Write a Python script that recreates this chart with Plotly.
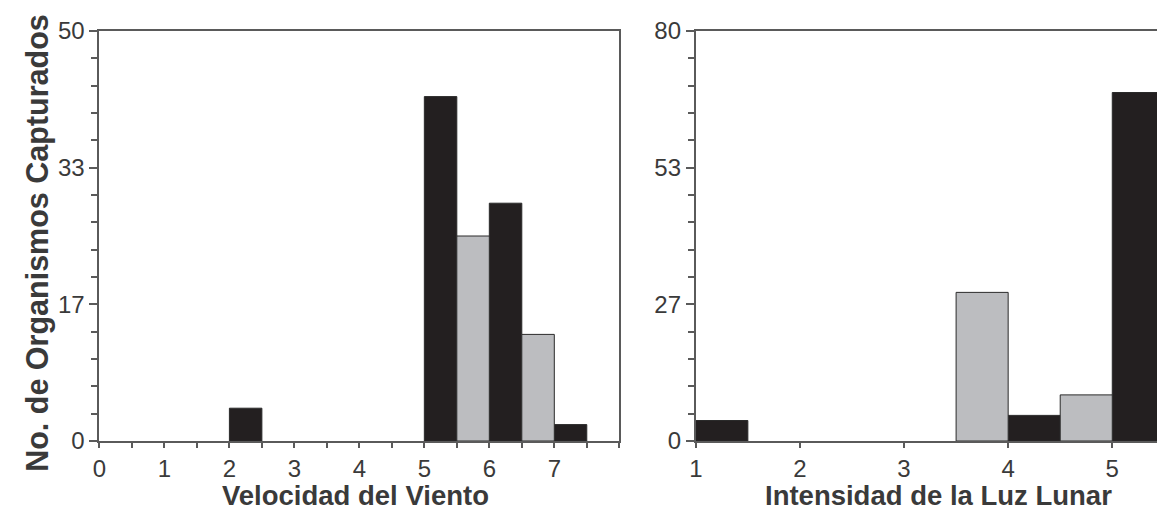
import plotly.graph_objects as go

# Panel 1: Velocidad del Viento (bins of width 0.5, left edges)
wind_black_x = [2, 5, 6, 7]
wind_black_y = [4, 42, 29, 2]
wind_gray_x = [5.5, 6.5]
wind_gray_y = [25, 13]
wind_tickvals = [0, 1, 2, 3, 4, 5, 6, 7]
wind_ytickvals = [0, 50 / 3, 100 / 3, 50]
wind_yticktext = ["0", "17", "33", "50"]

# Panel 2: Intensidad de la Luz Lunar
moon_black_x = [1, 4, 5]
moon_black_y = [4, 5, 68]
moon_gray_x = [3.5, 4.5]
moon_gray_y = [29, 9]
moon_tickvals = [1, 2, 3, 4, 5]
moon_ytickvals = [0, 80 / 3, 160 / 3, 80]
moon_yticktext = ["0", "27", "53", "80"]

BLACK = "#231f20"
GRAY = "#bcbdc0"
AX = "#5a5a5a"
TXT = "#3a3a3a"
FONT = "Liberation Sans, Arial, sans-serif"

W, H = 1157, 511
fig = go.Figure()

def bars(x, y, color, xa, ya):
    fig.add_trace(go.Bar(
        x=x, y=y, width=0.5, offset=0,
        marker=dict(color=color, line=dict(color="#2a2a2a", width=1)),
        xaxis=xa, yaxis=ya, showlegend=False,
    ))

bars(wind_black_x, wind_black_y, BLACK, "x", "y")
bars(wind_gray_x, wind_gray_y, GRAY, "x", "y")
bars(moon_black_x, moon_black_y, BLACK, "x2", "y2")
bars(moon_gray_x, moon_gray_y, GRAY, "x2", "y2")

common_ax = dict(
    showline=True, linecolor=AX, linewidth=2,
    showgrid=False, zeroline=False,
    ticks="outside", tickcolor=AX, tickwidth=2,
    tickfont=dict(family=FONT, size=24, color=TXT),
)

x1_dom = [93 / W, 616 / W]
x2_dom = [693 / W, 1.0]

fig.update_layout(
    width=W, height=H,
    margin=dict(l=0, r=0, t=31, b=70),
    paper_bgcolor="white", plot_bgcolor="white",
    barmode="overlay",
    xaxis=dict(common_ax, domain=x1_dom, range=[0, 8], anchor="y",
               tickvals=wind_tickvals, ticklen=5, mirror=True,
               minor=dict(dtick=0.5, ticklen=5, tickcolor=AX, tickwidth=2, ticks="outside")),
    yaxis=dict(common_ax, domain=[0, 1], range=[0, 50], anchor="x",
               tickvals=wind_ytickvals, ticktext=wind_yticktext, ticklen=8, mirror=True,
               minor=dict(dtick=50 / 15, tick0=0, ticklen=6, tickcolor=AX, tickwidth=2, ticks="outside")),
    xaxis2=dict(common_ax, domain=x2_dom, range=[1, 1 + (W - 693) / 104.75], anchor="y2",
                tickvals=moon_tickvals, ticklen=5, mirror=True),
    yaxis2=dict(common_ax, domain=[0, 1], range=[0, 80], anchor="x2",
                tickvals=moon_ytickvals, ticktext=moon_yticktext, ticklen=8, mirror=False,
                minor=dict(dtick=80 / 15, tick0=0, ticklen=6, tickcolor=AX, tickwidth=2, ticks="outside")),
)

plot_h = H - 31 - 70

fig.add_annotation(
    text="<b>No. de Organismos Capturados</b>", textangle=-90,
    xref="paper", yref="paper", x=30 / W, y=(441 - 243) / plot_h,
    xanchor="center", yanchor="middle", showarrow=False,
    font=dict(family=FONT, size=30.5, color=TXT),
)
fig.add_annotation(
    text="<b>Velocidad del Viento</b>",
    xref="paper", yref="paper", x=351 / W, y=(441 - 495) / plot_h,
    xanchor="center", yanchor="middle", showarrow=False,
    font=dict(family=FONT, size=27.5, color=TXT),
)
fig.add_annotation(
    text="<b>Intensidad de la Luz Lunar</b>",
    xref="paper", yref="paper", x=937 / W, y=(441 - 495) / plot_h,
    xanchor="center", yanchor="middle", showarrow=False,
    font=dict(family=FONT, size=27.5, color=TXT),
)

fig.write_html(
    "out.html",
    config={"displayModeBar": False},
    post_script="document.body.style.margin='0';document.body.style.overflow='hidden';",
)
